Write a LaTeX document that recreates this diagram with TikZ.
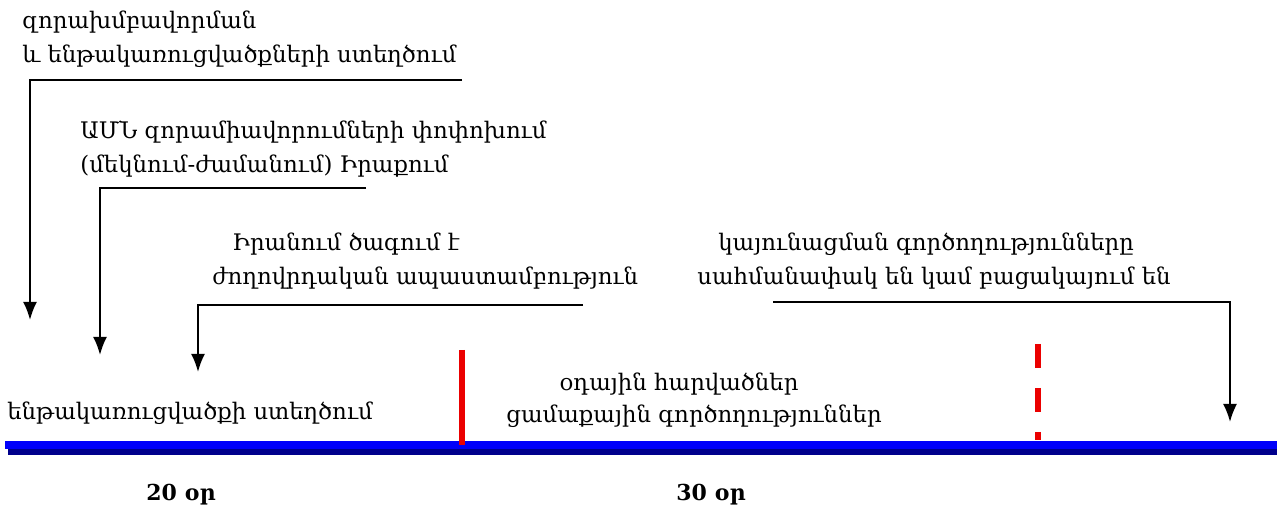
\documentclass[tikz,border=0pt]{standalone}
\usepackage{fontspec}
\setmainfont{DejaVu Serif}
\usetikzlibrary{arrows.meta}
\definecolor{barblue}{RGB}{0,0,250}
\definecolor{barshade}{RGB}{0,0,140}
\definecolor{markred}{RGB}{235,0,0}

\begin{document}
\begin{tikzpicture}[x=0.5pt,y=-0.5pt]
			\tikzstyle{event} = [anchor=base west, inner sep=0pt, font=\fontsize{11.4}{14}\selectfont]
			\tikzstyle{phase} = [anchor=base, inner sep=0pt, font=\fontsize{11.4}{14}\selectfont]
			\tikzstyle{days} = [anchor=base, inner sep=0pt, font=\bfseries\fontsize{11}{14}\selectfont]
			\tikzset{edge/.style = {line width=1pt, -{Latex[length=9pt,width=7pt]}}}

			\useasboundingbox (0,0) rectangle (1277,506);

			% time bar
			\fill[barshade] (8,449) rectangle (1277,455);
			\fill[barblue] (5,441) rectangle (1277,449);

			% phase borders
			\draw[markred, line width=3pt] (462,350) -- (462,445);
			\draw[markred, line width=3pt, dash pattern=on 12pt off 10pt] (1038,344) -- (1038,440);

			% events
			\node[event](build1) at (22,29) {զորախմբավորման};
			\node[event](build2) at (22,63) {և ենթակառուցվածքների ստեղծում};
			\node[event](move1) at (80,139) {ԱՄՆ զորամիավորումների փոփոխում};
			\node[event](move2) at (80,173) {(մեկնում-ժամանում) Իրաքում};
			\node[event](iran1) at (232,251) {Իրանում ծագում է};
			\node[event](iran2) at (212,285) {ժողովրդական ապաստամբություն};
			\node[event](stab1) at (718,251) {կայունացման գործողությունները};
			\node[event](stab2) at (697,285) {սահմանափակ են կամ բացակայում են};

			% phases
			\node[event](infra) at (7,420) {ենթակառուցվածքի ստեղծում};
			\node[phase](air) at (679,391) {օդային հարվածներ};
			\node[phase](ground) at (694,423) {ցամաքային գործողություններ};
			\node[days](days20) at (181,501) {20 օր};
			\node[days](days30) at (711,501) {30 օր};

			% arrows
			\coordinate (build) at (462,80);
			\coordinate (buildend) at (30,320);
			\coordinate (move) at (366,188);
			\coordinate (moveend) at (100,355);
			\coordinate (iran) at (583,305);
			\coordinate (iranend) at (198,372);
			\coordinate (stab) at (773,302);
			\coordinate (stabend) at (1230,422);
			\draw[edge](build) -| (buildend);
			\draw[edge](move) -| (moveend);
			\draw[edge](iran) -| (iranend);
			\draw[edge](stab) -| (stabend);

			\end{tikzpicture}
\end{document}
